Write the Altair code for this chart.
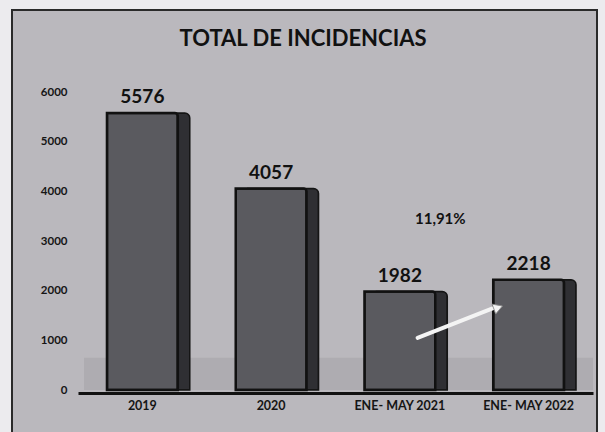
import altair as alt
import pandas as pd

categories = ["2019", "2020", "ENE- MAY 2021", "ENE- MAY 2022"]
values = [5576, 4057, 1982, 2218]
y_ticks = [0, 1000, 2000, 3000, 4000, 5000, 6000]
title_text = "TOTAL DE INCIDENCIAS"
pct_label = "11,91%"
arrow_from = "ENE- MAY 2021"
arrow_to = "ENE- MAY 2022"
arrow_y = [1050, 1650]
pct_y = 3450
floor_top = 650

bars = pd.DataFrame({"cat": categories, "val": values})
arrow = pd.DataFrame({"a": [arrow_from], "b": [arrow_to], "y1": [arrow_y[0]], "y2": [arrow_y[1]]})
head = pd.DataFrame({"b": [arrow_to], "y2": [arrow_y[1]]})
pct = pd.DataFrame({"a": [arrow_from], "y": [pct_y], "t": [pct_label]})
one = pd.DataFrame({"t": [title_text], "f": [floor_top]})

W, H = 515, 298
FONT = "Lato"

xscale = alt.Scale(domain=categories, paddingInner=0.45, paddingOuter=0.225)
yscale = alt.Scale(domain=[0, 6000], nice=False)

frame = alt.Chart(one).mark_rect(fill="#bab8bd", stroke="#2a2a2a", strokeWidth=2).encode(
    x=alt.value(-66), x2=alt.value(519), y=alt.value(-82), y2=alt.value(350)
)

floor = alt.Chart(one).mark_rect(fill="#aeacb1").encode(
    x=alt.value(6), x2=alt.value(W), y=alt.Y("f:Q", scale=yscale), y2=alt.value(H)
)

side = alt.Chart(bars).mark_bar(
    fill="#2f2f33", stroke="#151515", strokeWidth=1.5, xOffset=12, x2Offset=12, y2Offset=-10,
    cornerRadiusTopRight=5
).encode(
    x=alt.X("cat:N", sort=categories, scale=xscale),
    y=alt.Y("val:Q", scale=yscale),
)

front = alt.Chart(bars).mark_bar(
    fill="#5a5a5f", stroke="#111111", strokeWidth=2.5, y2Offset=-10, cornerRadiusTopRight=3
).encode(
    x=alt.X("cat:N", sort=categories, scale=xscale,
            axis=alt.Axis(title=None, labelAngle=0, labelAlign="center", ticks=False, domain=True,
                          domainColor="#111111", domainWidth=3, offset=3, labelPadding=12, labelFont=FONT,
                          labelFontSize=12.5, labelFontWeight="bold", labelColor="#151515", zindex=2)),
    y=alt.Y("val:Q", scale=yscale,
            axis=alt.Axis(title=None, values=y_ticks, grid=False, ticks=False, domain=False,
                          labelPadding=11, labelFont=FONT, labelFontSize=11.5, labelFontWeight="bold",
                          labelColor="#151515", format="d", zindex=2)),
)

labels = alt.Chart(bars).mark_text(
    font=FONT, fontSize=19, fontWeight="bold", color="#111111", baseline="alphabetic", dy=-10
).encode(
    x=alt.X("cat:N", sort=categories, scale=xscale),
    y=alt.Y("val:Q", scale=yscale),
    text=alt.Text("val:Q", format="d"),
)

arrow_line = alt.Chart(arrow).mark_rule(color="#f4f4f4", strokeWidth=4, strokeCap="round").encode(
    x=alt.X("a:N", sort=categories, scale=xscale, bandPosition=0.75),
    x2=alt.X2("b:N", bandPosition=0.0),
    y=alt.Y("y1:Q", scale=yscale),
    y2="y2:Q",
)

arrow_head = alt.Chart(head).mark_point(
    shape="triangle", filled=True, fill="#f4f4f4", stroke="#8a8a8a", strokeWidth=0.8, size=110, angle=70, opacity=1
).encode(
    x=alt.X("b:N", sort=categories, scale=xscale, bandPosition=0.05),
    y=alt.Y("y2:Q", scale=yscale),
)

pct_text = alt.Chart(pct).mark_text(
    font=FONT, fontSize=15, fontWeight="bold", color="#111111", dx=5
).encode(
    x=alt.X("a:N", sort=categories, scale=xscale, bandPosition=1),
    y=alt.Y("y:Q", scale=yscale),
    text="t:N",
)

title = alt.Chart(one).mark_text(
    font=FONT, fontSize=22, fontWeight="bold", color="#111111", baseline="alphabetic", align="center"
).encode(x=alt.value(225), y=alt.value(-46), text="t:N")

chart = alt.layer(frame, floor, side, front, labels, arrow_line, arrow_head, pct_text, title).properties(
    width=W, height=H,
    padding={"left": 78, "top": 92, "right": 12, "bottom": 42},
    autosize=alt.AutoSizeParams(type="none"),
    background="#ecebee",
).configure_view(stroke=None)

chart.save("out.html", embed_options={"renderer": "svg", "actions": False})
